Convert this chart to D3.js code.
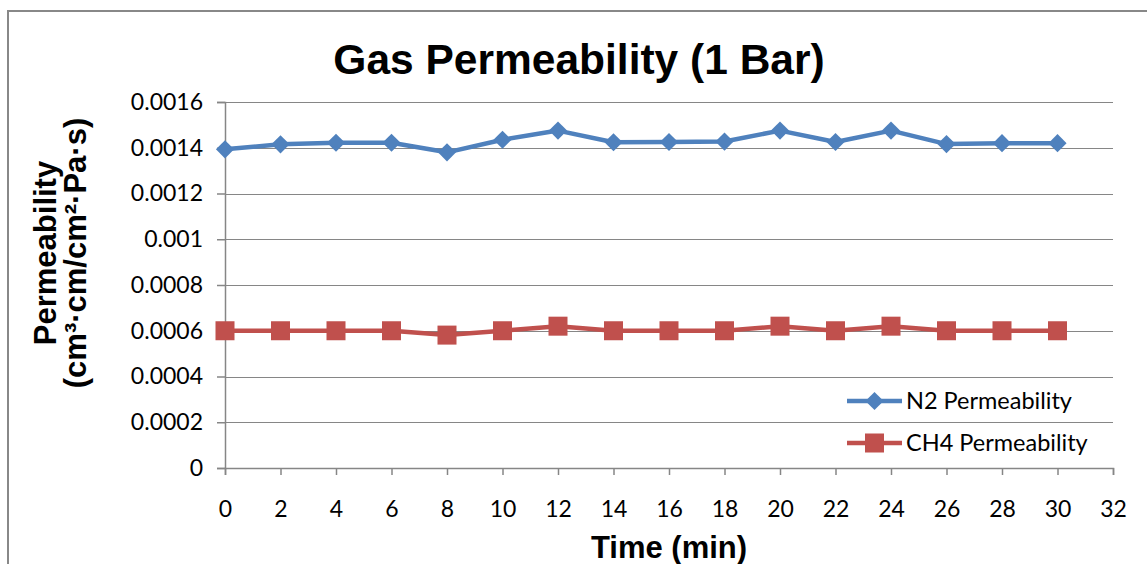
<!DOCTYPE html>
<html><head><meta charset="utf-8">
<script src="https://cdn.jsdelivr.net/npm/d3@7"></script>
<style>body{margin:0;background:#fff}svg{display:block}</style>
</head><body>
<svg id="c" width="1147" height="564"></svg>
<script>
const times = [0,2,4,6,8,10,12,14,16,18,20,22,24,26,28,30];
const n2Values = [0.001393,0.001415,0.001422,0.001422,0.00138,0.001435,0.001475,0.001424,0.001425,0.001427,0.001475,0.001425,0.001475,0.001416,0.00142,0.00142];
const ch4Values = [0.0006,0.0006,0.0006,0.0006,0.000581,0.0006,0.00062,0.0006,0.0006,0.0006,0.00062,0.0006,0.00062,0.0006,0.0006,0.0006];
const xTicks = [0,2,4,6,8,10,12,14,16,18,20,22,24,26,28,30,32];
const yTicks = [0,0.0002,0.0004,0.0006,0.0008,0.001,0.0012,0.0014,0.0016];
const yTickLabels = ["0","0.0002","0.0004","0.0006","0.0008","0.001","0.0012","0.0014","0.0016"];
const seriesNames = ["N2 Permeability","CH4 Permeability"];
const colors = ["#4F81BD","#C0504D"];

const svg = d3.select("#c");
const L=225,R=1113,T=102,B=468;
const x = d3.scaleLinear().domain([0,32]).range([L,R]);
const y = d3.scaleLinear().domain([0,0.0016]).range([B,T]);
const tickFont = "Lato, 'Open Sans', sans-serif";
const tickSize = 23;

svg.append("rect").attr("x",0).attr("y",0).attr("width",1147).attr("height",564).attr("fill","#fff");
svg.append("rect").attr("x",8).attr("y",11).attr("width",1160).attr("height",580)
  .attr("fill","none").attr("stroke","#888").attr("stroke-width",2);

// gridlines
svg.append("g").selectAll("line").data(yTicks.slice(1)).join("line")
  .attr("x1",L).attr("x2",R).attr("y1",d=>Math.round(y(d))+0.5).attr("y2",d=>Math.round(y(d))+0.5)
  .attr("stroke","#868686").attr("stroke-width",1.2);

// y axis
const yAxis = d3.axisLeft(y).tickValues(yTicks).tickSize(8).tickPadding(14)
  .tickFormat((d,i)=>yTickLabels[i]);
const gy = svg.append("g").attr("transform",`translate(${L},0)`).call(yAxis);
gy.select(".domain").attr("stroke","#868686").attr("stroke-width",1.5);
gy.selectAll(".tick line").attr("stroke","#868686").attr("stroke-width",1.5);
gy.selectAll("text").attr("font-family",tickFont).attr("font-size",tickSize).attr("fill","#000");

// x axis
const xAxis = d3.axisBottom(x).tickValues(xTicks).tickSize(7).tickPadding(26).tickFormat(d3.format("d"));
const gx = svg.append("g").attr("transform",`translate(0,${B})`).call(xAxis);
gx.select(".domain").attr("stroke","#868686").attr("stroke-width",1.5);
gx.selectAll(".tick line").attr("stroke","#868686").attr("stroke-width",1.5);
gx.selectAll("text").attr("font-family",tickFont).attr("font-size",tickSize).attr("fill","#000");

// series
const series = [n2Values, ch4Values];
const line = d3.line().x((d,i)=>x(times[i])).y(d=>y(d));
series.forEach((vals,si)=>{
  svg.append("path").datum(vals).attr("d",line).attr("fill","none")
    .attr("stroke",colors[si]).attr("stroke-width",4.5).attr("stroke-linejoin","round");
});
const diamond = d3.symbol().type(d3.symbolSquare).size(165)();
svg.append("g").selectAll("path").data(n2Values).join("path")
  .attr("d",diamond)
  .attr("transform",(d,i)=>`translate(${x(times[i])},${y(d)}) rotate(45)`)
  .attr("fill",colors[0]);
svg.append("g").selectAll("rect").data(ch4Values).join("rect")
  .attr("x",(d,i)=>x(times[i])-9.5).attr("y",d=>y(d)-9.5)
  .attr("width",19).attr("height",19).attr("fill",colors[1]);

// title
svg.append("text").attr("x",579).attr("y",74).attr("text-anchor","middle")
  .attr("font-family","'Liberation Sans', Arial, sans-serif").attr("font-weight","bold")
  .attr("font-size",42.5).text("Gas Permeability (1 Bar)");

// x title
svg.append("text").attr("x",669).attr("y",558).attr("text-anchor","middle")
  .attr("font-family","'Liberation Sans', Arial, sans-serif").attr("font-weight","bold")
  .attr("font-size",31).text("Time (min)");

// y title
const yt = svg.append("text").attr("transform","translate(0,253) rotate(-90)")
  .attr("text-anchor","middle")
  .attr("font-family","'Liberation Sans', Arial, sans-serif").attr("font-weight","bold")
  .attr("font-size",31);
yt.append("tspan").attr("x",0).attr("y",56).text("Permeability");
yt.append("tspan").attr("x",0).attr("y",86).text("(cm³·cm/cm²·Pa·s)");

// legend
const ly = [401,443];
seriesNames.forEach((n,i)=>{
  svg.append("line").attr("x1",847).attr("x2",902).attr("y1",ly[i]).attr("y2",ly[i])
    .attr("stroke",colors[i]).attr("stroke-width",4.5);
  if(i===0){
    svg.append("path").attr("d",diamond).attr("transform",`translate(874.5,${ly[i]}) rotate(45)`).attr("fill",colors[0]);
  } else {
    svg.append("rect").attr("x",874.5-9.5).attr("y",ly[i]-9.5).attr("width",19).attr("height",19).attr("fill",colors[1]);
  }
  svg.append("text").attr("x",906).attr("y",ly[i]+8).attr("font-family",tickFont)
    .attr("font-size",23.5).text(n);
});
</script>
</body></html>
